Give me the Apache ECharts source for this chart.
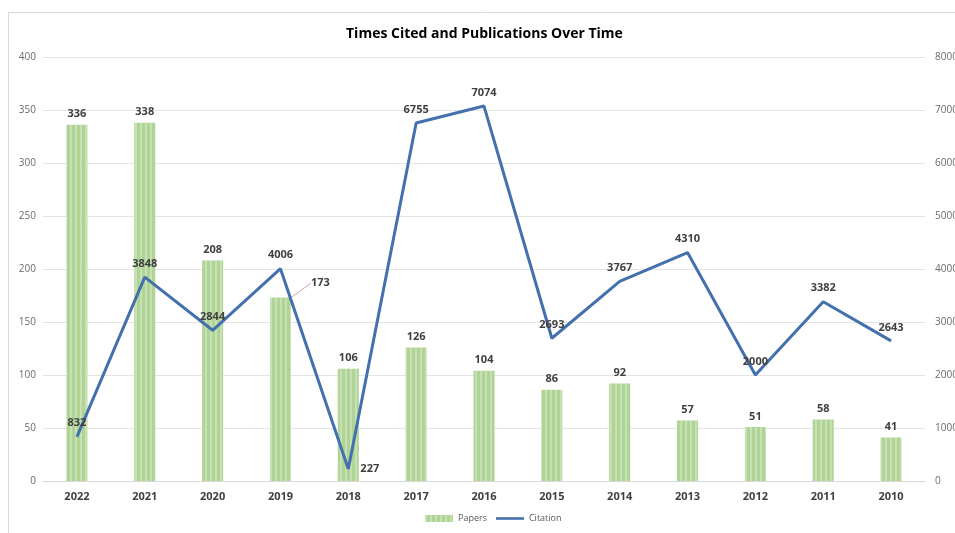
<!DOCTYPE html>
<html>
<head>
<meta charset="utf-8">
<style>
  html, body { margin: 0; padding: 0; background: #ffffff; }
  #chart { width: 955px; height: 533px; }
</style>
<script src="https://cdn.jsdelivr.net/npm/echarts@6/dist/echarts.min.js"></script>
</head>
<body>
<div id="chart"></div>
<script>
// Publication years, newest first
const years = ['2022', '2021', '2020', '2019', '2018', '2017', '2016', '2015', '2014', '2013', '2012', '2011', '2010'];
// Number of papers per year
const papers = [336, 338, 208, 173, 106, 126, 104, 86, 92, 57, 51, 58, 41];
// Times cited per year
const citations = [832, 3848, 2844, 4006, 227, 6755, 7074, 2693, 3767, 4310, 2000, 3382, 2643];
// Label placement for the citation points
const citationLabelPos = ['top', 'top', 'top', 'top', 'right', 'top', 'top', 'top', 'top', 'top', 'top', 'top', 'top'];

const chart = echarts.init(document.getElementById('chart'));
const labelFont = { fontFamily: 'Open Sans', fontWeight: 'bold', fontSize: 11, color: '#404040' };

chart.setOption({
  animation: false,
  backgroundColor: '#ffffff',
  graphic: [{
    type: 'rect',
    shape: { x: 8.5, y: 12.5, width: 1000, height: 600 },
    style: { fill: 'none', stroke: '#d9d9d9', lineWidth: 1 },
    silent: true
  }],
  title: {
    text: 'Times Cited and Publications Over Time',
    left: 341,
    top: 22,
    textStyle: { fontFamily: 'Open Sans', fontWeight: 'bold', fontSize: 14, color: '#000000' }
  },
  legend: {
    bottom: 5,
    left: 420,
    itemWidth: 28,
    itemHeight: 7,
    itemGap: 9,
    textStyle: { fontFamily: 'Open Sans', fontSize: 9, color: '#595959' },
    data: [
      { name: 'Papers', icon: 'rect' },
      { name: 'Citation', icon: 'path://M0,0 L28,0 L28,2.6 L0,2.6 Z', itemStyle: { color: '#4470ad' } }
    ]
  },
  grid: { left: 43, right: 30, top: 57, bottom: 52, containLabel: false, outerBoundsMode: 'none' },
  xAxis: {
    type: 'category',
    data: years,
    axisTick: { show: false },
    axisLine: { lineStyle: { color: '#d9d9d9' } },
    axisLabel: { fontFamily: 'Open Sans', fontWeight: 'bold', fontSize: 11, color: '#404040', margin: 10 }
  },
  yAxis: [{
    type: 'value',
    min: 0, max: 400, interval: 50,
    axisLine: { show: false },
    axisTick: { show: false },
    splitLine: { lineStyle: { color: '#e4e4e4' } },
    axisLabel: { fontFamily: 'Open Sans', fontSize: 10, color: '#6b6b6b', margin: 7 }
  }, {
    type: 'value',
    min: 0, max: 8000, interval: 1000,
    axisLine: { show: false },
    axisTick: { show: false },
    splitLine: { show: false },
    axisLabel: { fontFamily: 'Open Sans', fontSize: 10, color: '#6b6b6b', margin: 10, formatter: v => String(v) }
  }],
  series: [{
    name: 'Papers',
    type: 'bar',
    yAxisIndex: 0,
    data: papers.map((v, i) => i === 3
      ? { value: v, labelLine: { show: true, lineStyle: { color: '#d0a8a8', width: 1 } } }
      : { value: v }),
    barWidth: 21,
    itemStyle: {
      color: '#afd496',
      // faint vertical hatching across the bar fill
      decal: {
        symbol: 'rect',
        symbolSize: 1,
        dashArrayX: [2, 3],
        dashArrayY: [10, 0],
        rotation: 0,
        color: 'rgba(255,255,255,0.3)'
      }
    },
    label: Object.assign({ show: true, position: 'top', distance: 5 }, labelFont),
    labelLine: { show: false },
    labelLayout: function (params) {
      if (params.dataIndex === 3) {
        return { dx: 40, dy: -4 };
      }
      return {};
    }
  }, {
    name: 'Citation',
    type: 'line',
    yAxisIndex: 1,
    data: citations.map((v, i) => ({
      value: v,
      label: { position: citationLabelPos[i], distance: citationLabelPos[i] === 'right' ? 12 : 8 }
    })),
    symbol: 'circle',
    symbolSize: 0.1,
    showSymbol: true,
    lineStyle: { color: '#4470ad', width: 3 },
    itemStyle: { color: '#4470ad' },
    label: Object.assign({ show: true }, labelFont),
    z: 3
  }]
});
</script>
</body>
</html>
